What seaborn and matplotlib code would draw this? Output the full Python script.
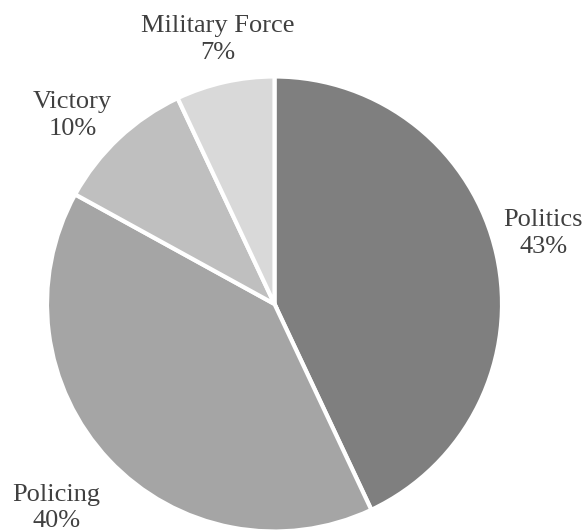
import matplotlib
matplotlib.use("Agg")
import matplotlib.pyplot as plt
import seaborn as sns
import numpy as np

categories = ["Politics", "Policing", "Victory", "Military Force"]
values = [43, 40, 10, 7]
pct_labels = ["43%", "40%", "10%", "7%"]
colors = ["#7f7f7f", "#a5a5a5", "#bfbfbf", "#d9d9d9"]
label_dist = [1.22, 1.31, 1.22, 1.19]
label_nudge = [(-2, 10), (-1, 0), (-12, -14), (2, 0)]

sns.set_theme(style="white")
plt.rcParams['font.family'] = ['Liberation Serif', 'DejaVu Serif']

W, H = 588, 531
fig = plt.figure(figsize=(W / 100, H / 100), dpi=100)
ax = fig.add_axes([0, 0, 1, 1])
cx, cy, r = 274.5, 227.0, 227.5
wedges, _ = ax.pie(values, colors=colors, startangle=90, counterclock=False,
                   center=(cx, cy), radius=r,
                   wedgeprops=dict(edgecolor="white", linewidth=3))
for w, cat, pl, d, (nx, ny) in zip(wedges, categories, pct_labels, label_dist, label_nudge):
    ang = np.deg2rad((w.theta1 + w.theta2) / 2)
    x = cx + d * r * np.cos(ang) + nx
    y = cy + d * r * np.sin(ang) + ny
    ax.text(x, y, f"{cat}\n{pl}", ha="center", va="center", fontsize=19,
            color="#404040", linespacing=1.28, multialignment="center")
ax.set_xlim(0, W)
ax.set_ylim(0, H)
ax.set_aspect("equal")
ax.axis("off")
fig.savefig("out.png", dpi=100)
